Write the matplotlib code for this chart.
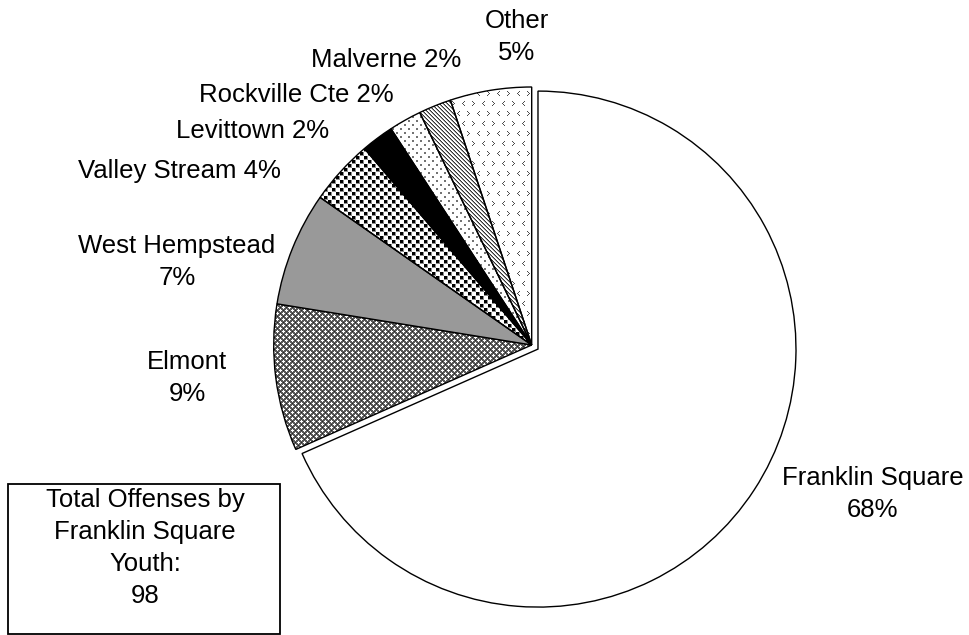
import numpy as np
import matplotlib.pyplot as plt
from matplotlib.patches import Rectangle

plt.rcParams['font.family'] = ['Liberation Sans', 'DejaVu Sans']

# Offenses by home town of Franklin Square youth
towns = ["Franklin Square", "Elmont", "West Hempstead", "Valley Stream",
         "Levittown", "Rockville Cte", "Malverne", "Other"]
offenses = [67, 9, 7, 4, 2, 2, 2, 5]
total = sum(offenses)

W, H = 970, 635
fs = 18.5

# label anchors (x, y from top), True = name and percent on two lines
label_pos = {
    "Franklin Square": (873, 494, True),
    "Elmont": (187, 378, True),
    "West Hempstead": (177, 262, True),
    "Valley Stream": (179, 171, False),
    "Levittown": (253, 131, False),
    "Rockville Cte": (296, 95, False),
    "Malverne": (386, 60, False),
    "Other": (517, 37, True),
}


def tiled(tile):
    th, tw = tile.shape
    return np.tile(tile, (H // th + 1, W // tw + 1))[:H, :W]


# fill textures, 1 = white, 0 = black
elmont_t = np.full((6, 6), 0.35)
for r, c in [(1, 1), (4, 4)]:
    for dr, dc in [(0, 0), (1, 0), (-1, 0), (0, 1), (0, -1)]:
        elmont_t[(r + dr) % 6, (c + dc) % 6] = 1.0
elmont_t[1, 4] = 0.15
elmont_t[4, 1] = 0.15

valley_t = np.ones((8, 8))
valley_t[0:4, 0:4] = 0.55
valley_t[4:8, 4:8] = 0.55
valley_t[0:3, 0:3] = 0.0
valley_t[4:7, 4:7] = 0.0

rock_t = np.ones((8, 8))
rock_t[0:2, 0:2] = 0.45
rock_t[4:6, 4:6] = 0.45

malv_t = np.ones((4, 4))
for i in range(4):
    for j in range(4):
        if (i - j) % 4 == 0:
            malv_t[i, j] = 0.2
        elif (i - j) % 4 == 1:
            malv_t[i, j] = 0.6

other_t = np.ones((20, 20))
lt = [(0, 2), (1, 1), (2, 0), (3, 1), (4, 2)]
gt = [(0, 0), (1, 1), (2, 2), (3, 1), (4, 0)]
for r0, c0, glyph in [(1, 2, lt), (1, 12, gt), (11, 7, gt), (11, 17, lt)]:
    for dr, dc in glyph:
        other_t[r0 + dr, (c0 + dc) % 20] = 0.3

textures = {
    "Elmont": elmont_t,
    "Valley Stream": valley_t,
    "Rockville Cte": rock_t,
    "Malverne": malv_t,
    "Other": other_t,
}
solid = {"Franklin Square": "white", "West Hempstead": "#999999", "Levittown": "black"}

fig = plt.figure(figsize=(W / 100, H / 100), dpi=100)
ax = fig.add_axes([0, 0, 1, 1])

colors = [solid.get(t, "none") for t in towns]
explode = [7.5] + [0] * (len(towns) - 1)
wedges, _ = ax.pie(offenses, startangle=90, counterclock=False,
                   center=(531.7, H - 345), radius=258, explode=explode,
                   colors=colors, frame=True,
                   wedgeprops=dict(edgecolor="black", linewidth=1.0, zorder=3))

for town, wedge in zip(towns, wedges):
    if town in textures:
        im = ax.imshow(tiled(textures[town]), cmap="gray", vmin=0, vmax=1,
                       extent=(0, W, 0, H), interpolation="nearest",
                       origin="upper", zorder=2)
        im.set_clip_path(wedge)

for town, n in zip(towns, offenses):
    x, y, two_lines = label_pos[town]
    pct = f"{round(100 * n / total)}%"
    txt = f"{town}\n{pct}" if two_lines else f"{town} {pct}"
    ax.text(x, H - y, txt, ha="center", va="center", fontsize=fs,
            linespacing=1.42, zorder=5)

# total box in the lower left
ax.add_patch(Rectangle((8.5, H - 633.5), 271.5, 149.5, facecolor="white",
                       edgecolor="black", linewidth=1.3, zorder=4))
ax.text(145, H - 548, f"Total Offenses by\nFranklin Square\nYouth:\n{total}",
        ha="center", va="center", fontsize=fs, linespacing=1.42, zorder=5)

ax.set_xlim(0, W)
ax.set_ylim(0, H)
ax.set_aspect("auto")
ax.axis("off")

fig.savefig("out.png", dpi=100)
